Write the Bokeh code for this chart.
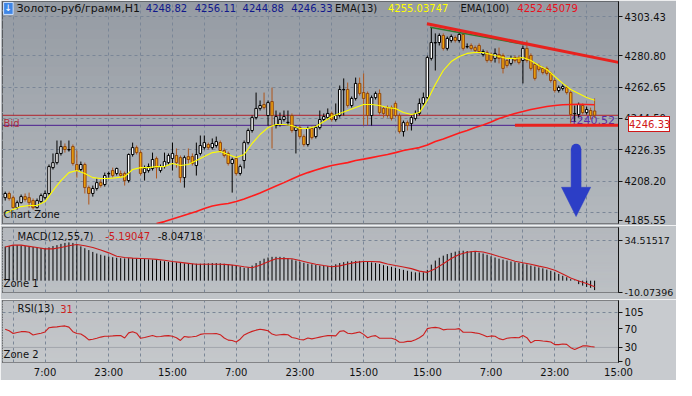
from bokeh.plotting import figure
from bokeh.layouts import column
from bokeh.models import Range1d, FixedTicker, Label, Span, ColumnDataSource, PrintfTickFormatter, Div
from bokeh.embed import file_html
from bokeh.resources import INLINE
from bokeh.core.properties import value

# ---------------- data ----------------
bars = list(range(-10, 139))          # hourly bar index (H1)
tick_pos = [0, 16, 32, 48, 64, 80, 96, 112, 128, 144]
tick_labels = ["7:00", "23:00", "15:00", "7:00", "23:00", "15:00", "15:00", "7:00", "23:00", "15:00"]

opens = [4198.6, 4201.0, 4198.6, 4192.8, 4195.7, 4199.2, 4198.6, 4196.9, 4192.8, 4196.3,
         4198.6, 4201.0, 4216.0, 4218.9, 4224.2, 4228.2, 4226.3, 4228.2, 4217.8, 4214.9,
         4217.8, 4204.4, 4201.0, 4203.9, 4207.3, 4206.2, 4212.4, 4214.3, 4212.6, 4212.6,
         4212.6, 4208.5, 4223.6, 4227.6, 4224.7, 4213.1, 4214.3, 4215.5, 4221.3, 4214.3,
         4216.6, 4218.9, 4221.3, 4223.0, 4221.8, 4210.2, 4222.4, 4222.4, 4217.2, 4224.2,
         4227.6, 4229.4, 4227.6, 4228.8, 4230.5, 4225.9, 4224.2, 4218.4, 4221.3, 4212.6,
         4220.1, 4230.5, 4237.5, 4245.0, 4250.3, 4252.6, 4246.2, 4254.3, 4240.4, 4241.0,
         4243.9, 4242.1, 4246.2, 4237.5, 4239.2, 4234.0, 4229.4, 4238.7, 4234.0, 4239.2,
         4243.9, 4245.0, 4247.4, 4243.9, 4246.2, 4261.1, 4261.3, 4252.0, 4256.1, 4264.8,
         4259.5, 4259.0, 4246.2, 4256.6, 4259.0, 4250.3, 4250.8, 4250.8, 4253.2, 4246.2,
         4236.9, 4242.1, 4241.6, 4244.5, 4247.4, 4253.2, 4256.6, 4279.3, 4288.3, 4288.5,
         4292.6, 4285.1, 4289.7, 4291.4, 4289.7, 4293.2, 4286.0, 4286.8, 4285.6, 4286.8,
         4281.6, 4282.7, 4281.6, 4279.3, 4281.6, 4281.0, 4278.1, 4276.4, 4279.8, 4279.8,
         4278.1, 4285.1, 4281.0, 4275.8, 4275.2, 4273.5, 4273.5, 4270.6, 4266.5, 4260.7,
         4261.9, 4262.4, 4259.5, 4247.2, 4246.8, 4252.0, 4247.9, 4249.1, 4248.82]
highs = [4202.1, 4202.1, 4199.8, 4196.9, 4200.4, 4201.0, 4201.5, 4198.1, 4198.1, 4201.0,
         4202.7, 4217.8, 4224.2, 4231.7, 4231.7, 4230.0, 4231.7, 4229.4, 4225.9, 4219.5,
         4218.9, 4205.6, 4205.6, 4209.7, 4209.1, 4213.1, 4213.7, 4216.0, 4216.0, 4214.3,
         4213.7, 4224.2, 4230.5, 4228.8, 4225.9, 4217.2, 4218.4, 4224.7, 4222.4, 4217.8,
         4224.7, 4224.2, 4230.5, 4227.1, 4223.0, 4223.0, 4227.1, 4224.2, 4230.5, 4234.6,
         4234.6, 4230.5, 4232.9, 4234.0, 4231.7, 4227.1, 4225.3, 4221.8, 4222.4, 4217.8,
         4231.7, 4238.7, 4246.2, 4259.5, 4254.9, 4259.5, 4254.9, 4262.4, 4249.1, 4247.9,
         4249.1, 4249.1, 4247.4, 4240.4, 4240.4, 4235.2, 4239.8, 4239.8, 4240.4, 4249.1,
         4247.4, 4250.3, 4248.5, 4253.2, 4263.6, 4267.7, 4265.3, 4257.2, 4268.2, 4268.2,
         4270.6, 4260.1, 4257.8, 4260.1, 4261.3, 4251.4, 4252.0, 4252.0, 4254.3, 4247.4,
         4243.3, 4243.3, 4246.2, 4249.1, 4256.1, 4259.5, 4281.0, 4297.2, 4293.8, 4293.8,
         4293.8, 4292.0, 4293.2, 4292.6, 4294.3, 4294.3, 4288.0, 4288.0, 4286.8, 4288.0,
         4284.5, 4283.9, 4282.7, 4285.1, 4285.6, 4282.2, 4279.3, 4281.0, 4281.0, 4281.0,
         4286.8, 4289.7, 4282.2, 4276.9, 4276.4, 4274.6, 4274.6, 4271.7, 4267.7, 4263.6,
         4264.2, 4263.6, 4260.7, 4252.0, 4253.7, 4253.2, 4251.4, 4250.8, 4256.11]
lows = [4196.9, 4196.9, 4192.3, 4191.7, 4195.2, 4196.3, 4192.8, 4191.7, 4192.3, 4195.2,
        4197.5, 4199.8, 4214.9, 4217.8, 4223.0, 4224.7, 4225.3, 4217.2, 4210.2, 4213.7,
        4201.0, 4194.6, 4199.2, 4202.7, 4204.4, 4205.0, 4210.2, 4210.2, 4211.4, 4210.2,
        4205.6, 4207.3, 4222.4, 4223.6, 4211.4, 4208.5, 4213.1, 4214.3, 4209.7, 4213.1,
        4215.5, 4217.8, 4214.3, 4216.0, 4207.3, 4204.4, 4218.4, 4217.2, 4211.4, 4223.0,
        4226.5, 4226.5, 4226.5, 4227.6, 4224.7, 4221.8, 4217.2, 4201.5, 4211.4, 4211.4,
        4215.5, 4229.4, 4236.3, 4243.9, 4249.1, 4249.7, 4240.4, 4227.1, 4238.7, 4239.8,
        4242.7, 4240.4, 4236.3, 4224.2, 4232.9, 4228.2, 4228.2, 4232.3, 4232.9, 4238.1,
        4242.7, 4243.9, 4242.7, 4242.7, 4245.0, 4246.2, 4250.8, 4250.8, 4254.9, 4257.8,
        4240.4, 4240.4, 4240.4, 4255.5, 4246.8, 4245.0, 4245.0, 4243.3, 4245.0, 4235.8,
        4234.0, 4237.5, 4237.5, 4243.3, 4246.2, 4252.0, 4255.5, 4278.1, 4272.3, 4286.8,
        4283.9, 4283.9, 4288.5, 4288.5, 4288.5, 4283.9, 4285.1, 4283.9, 4282.7, 4282.2,
        4280.4, 4276.9, 4276.9, 4276.9, 4276.4, 4270.6, 4274.0, 4275.2, 4276.9, 4275.8,
        4264.8, 4276.9, 4272.3, 4266.5, 4271.7, 4270.0, 4269.4, 4265.3, 4259.5, 4259.5,
        4260.7, 4258.4, 4241.6, 4242.7, 4245.0, 4246.8, 4246.8, 4243.9, 4244.88]
closes = [4201.0, 4198.1, 4192.8, 4195.7, 4199.2, 4197.5, 4195.7, 4192.8, 4196.9, 4199.8,
          4201.0, 4216.6, 4218.9, 4224.2, 4228.2, 4226.5, 4226.5, 4218.4, 4214.3, 4217.8,
          4204.4, 4201.0, 4203.9, 4207.3, 4205.6, 4211.4, 4212.6, 4211.4, 4215.5, 4211.4,
          4208.5, 4223.6, 4227.6, 4224.7, 4212.6, 4215.5, 4216.6, 4220.7, 4216.0, 4216.6,
          4219.5, 4223.0, 4224.2, 4218.9, 4210.2, 4221.8, 4220.7, 4218.4, 4223.6, 4228.8,
          4230.5, 4227.6, 4230.0, 4231.1, 4225.9, 4223.0, 4218.4, 4220.7, 4212.6, 4216.6,
          4230.5, 4237.5, 4245.0, 4250.3, 4252.0, 4250.8, 4253.7, 4246.2, 4245.6, 4243.9,
          4245.6, 4242.3, 4237.5, 4239.2, 4234.0, 4229.4, 4238.7, 4233.4, 4239.2, 4243.9,
          4245.6, 4247.4, 4243.9, 4246.2, 4261.3, 4261.3, 4252.0, 4256.1, 4264.8, 4259.0,
          4256.1, 4246.2, 4256.6, 4259.0, 4247.9, 4247.4, 4246.2, 4244.5, 4246.2, 4236.9,
          4242.1, 4240.4, 4245.0, 4247.4, 4253.2, 4256.6, 4279.8, 4288.5, 4288.5, 4292.6,
          4285.1, 4290.9, 4292.0, 4289.7, 4293.2, 4285.1, 4286.2, 4285.1, 4283.9, 4283.3,
          4283.3, 4278.1, 4278.1, 4282.2, 4279.3, 4273.5, 4275.2, 4279.3, 4278.1, 4276.9,
          4285.1, 4278.1, 4273.5, 4267.7, 4272.9, 4271.1, 4270.6, 4266.5, 4260.7, 4262.4,
          4263.0, 4259.5, 4246.8, 4247.4, 4252.6, 4247.9, 4249.7, 4246.2, 4246.33]

ema13_last = 4255.03747
ema100_last = 4252.45079
ema13_x = list(range(-10, 139, 2))
ema13 = [4189.4, 4191.7, 4193.4, 4194.0, 4194.0, 4196.3, 4202.7, 4208.5, 4213.1, 4214.3,
         4212.6, 4210.2, 4209.7, 4209.7, 4210.2, 4210.8, 4214.9, 4216.0, 4216.0, 4216.6,
         4216.6, 4218.4, 4217.2, 4217.8, 4220.1, 4222.4, 4224.7, 4225.3, 4223.6, 4221.8,
         4223.6, 4230.0, 4235.2, 4239.2, 4241.0, 4241.0, 4240.4, 4238.7, 4238.7, 4239.8,
         4242.7, 4245.6, 4247.4, 4249.1, 4250.8, 4252.6, 4252.6, 4252.0, 4250.8, 4250.3,
         4247.9, 4246.8, 4247.9, 4254.9, 4264.2, 4272.3, 4277.5, 4280.4, 4282.2, 4282.7,
         4282.7, 4281.6, 4280.4, 4279.3, 4279.3, 4279.8, 4278.1, 4275.2, 4272.9, 4268.8,
         4264.8, 4261.3, 4259.0, 4256.6, ema13_last]
ema100_x = list(range(28, 139, 2))
ema100 = [4183.6, 4184.7, 4186.2, 4187.6, 4189.1, 4190.5, 4192.3, 4193.7, 4194.6, 4195.2,
          4196.3, 4197.8, 4199.5, 4201.3, 4203.3, 4205.3, 4207.3, 4209.4, 4211.4, 4213.1,
          4214.6, 4216.0, 4217.2, 4218.1, 4218.9, 4220.1, 4220.9, 4221.8, 4222.7, 4223.6,
          4224.7, 4225.9, 4226.8, 4227.6, 4229.1, 4231.1, 4232.6, 4234.3, 4236.0, 4237.5,
          4239.2, 4240.7, 4242.4, 4244.5, 4245.9, 4247.4, 4248.5, 4249.7, 4250.6, 4251.4,
          4252.0, 4252.4, 4252.6, 4252.7, 4252.6, ema100_last]

macd_last = -8.04718
signal_last = -5.19047
macd_hist = [28.96, 29.43, 30.22, 30.22, 29.98, 29.43, 29.19, 28.64, 28.40, 27.85,
             27.61, 28.40, 29.43, 30.22, 31.33, 32.12, 32.59, 32.12, 30.77, 29.19,
             27.61, 26.03, 24.45, 23.11, 22.08, 21.29, 20.50, 19.95, 19.48, 19.16,
             18.92, 19.16, 19.16, 18.92, 18.69, 18.37, 18.13, 17.90, 17.58, 17.11,
             16.55, 16.00, 15.76, 15.53, 14.97, 14.74, 14.42, 14.42, 14.42, 14.42,
             14.74, 14.74, 14.97, 14.97, 14.74, 14.42, 13.95, 13.39, 12.84, 11.81,
             11.02, 11.26, 12.84, 14.97, 16.79, 18.69, 19.71, 20.27, 20.27, 20.27,
             19.95, 19.16, 18.13, 17.11, 16.00, 15.21, 14.42, 13.95, 13.39, 12.84,
             12.60, 12.37, 12.84, 13.95, 14.97, 15.76, 16.32, 16.55, 16.79, 16.79,
             16.32, 16.00, 15.53, 14.97, 14.18, 13.16, 12.37, 11.81, 10.78, 9.99,
             9.20, 8.41, 7.62, 7.07, 7.07, 7.07, 9.20, 13.63, 17.11, 19.48,
             21.29, 22.64, 23.66, 24.69, 25.48, 25.48, 25.24, 25.01, 24.45, 23.90,
             23.11, 22.08, 20.74, 19.71, 18.69, 17.90, 17.11, 16.32, 15.76, 15.21,
             14.74, 13.95, 12.84, 12.05, 11.26, 10.47, 9.44, 8.41, 7.07, 5.73,
             4.15, 2.88, 1.30, -0.30, -2.96, -4.23, -5.33, -6.12, macd_last]
signal_x = list(range(-10, 139, 2))
macd_signal = [28.64, 30.22, 30.22, 29.19, 28.17, 27.06, 27.06, 28.17, 29.75, 30.77,
               29.75, 28.17, 26.03, 23.66, 20.74, 19.71, 19.16, 18.92, 18.69, 18.13,
               17.34, 16.32, 15.53, 14.74, 13.95, 13.95, 13.95, 13.95, 13.63, 12.84,
               11.81, 11.02, 13.16, 16.00, 18.69, 18.92, 18.69, 17.11, 15.53, 13.95,
               12.84, 11.81, 12.60, 14.18, 15.53, 16.32, 16.32, 16.00, 14.18, 12.84,
               11.57, 10.23, 8.10, 7.07, 10.23, 14.42, 18.92, 22.32, 24.22, 25.01,
               24.45, 22.64, 20.50, 18.69, 16.55, 15.21, 13.95, 12.37, 11.02, 8.89,
               5.73, 2.33, -0.28, -2.41, signal_last]

rsi_last = 31
rsi = [68.5, 65.3, 59.6, 61.5, 63.4, 63.4, 62.1, 56.4, 58.3, 60.2,
       62.8, 71.7, 73.0, 73.6, 74.9, 75.6, 73.0, 63.4, 59.6, 58.3,
       53.2, 46.1, 47.4, 49.3, 51.9, 53.8, 53.8, 54.4, 55.1, 55.1,
       50.0, 60.8, 63.4, 60.2, 49.3, 51.2, 53.2, 55.1, 52.5, 53.2,
       54.4, 55.1, 53.8, 50.6, 44.8, 53.2, 51.9, 52.5, 53.8, 57.6,
       58.9, 58.9, 58.9, 59.6, 57.0, 50.0, 45.5, 44.8, 41.6, 47.4,
       56.4, 60.8, 64.0, 66.6, 68.5, 67.2, 65.3, 58.3, 55.7, 57.0,
       57.6, 57.0, 51.2, 49.3, 46.8, 46.1, 50.0, 48.1, 50.0, 51.9,
       53.8, 55.1, 55.1, 54.4, 64.0, 65.3, 60.2, 58.9, 60.8, 62.8,
       57.6, 50.6, 53.8, 55.1, 49.3, 49.3, 49.3, 49.3, 46.8, 41.0,
       41.0, 42.9, 42.9, 46.1, 50.6, 56.4, 69.8, 71.7, 72.4, 71.1,
       67.2, 68.5, 68.5, 68.5, 69.8, 62.1, 62.1, 62.1, 60.8, 59.6,
       56.4, 52.5, 54.4, 53.8, 48.7, 46.1, 49.3, 50.6, 51.2, 50.6,
       55.1, 50.6, 39.7, 44.8, 44.8, 43.6, 42.9, 41.6, 35.9, 35.9,
       37.2, 36.5, 29.5, 25.7, 29.5, 33.3, 33.3, 32.1, rsi_last]

price_ticks = [4185.55, 4208.20, 4226.35, 4244.50, 4262.65, 4280.80, 4303.43]
price_grid = [4190.05, 4208.20, 4226.35, 4244.50, 4262.65, 4280.80, 4303.43]
macd_ticks = [-10.07396, 34.51517]
rsi_ticks = [0, 30, 70, 105]
level_price = 4240.52

# drawn objects (trend lines)
resist_x, resist_y = [95.9, 144.0], [4299.4, 4277.0]
green_x, green_y = [96.7, 120.9], [4297.4, 4287.2]
support_x, support_y = [118.0, 144.0], [level_price, level_price]

# ---------------- styling helpers ----------------
FONT = "DejaVu Sans"
W = 676
FRAME_L = 2
FRAME_W = 618
X0, X1 = -10.675, 144.0
xr = Range1d(X0, X1)
grid_x = list(range(-8, 144, 8))
MAIN_Y0, MAIN_Y1, MAIN_FH = 4183.6, 4312.3, 222
H1, H2, H3 = 225, 74, 81


def rgb(h):
    return tuple(int(h[k:k + 2], 16) for k in (1, 3, 5))


def blend(a, b, t):
    ra, rb = rgb(a), rgb(b)
    return "#%02x%02x%02x" % tuple(round(x + (y - x) * t) for x, y in zip(ra, rb))


def panel(height, y0, y1, btop, bbot, c_top, c_bot, border, yticks, fmt, ygrid,
          xaxis=False, label_size="10px"):
    p = figure(width=W, height=height, x_range=xr, y_range=Range1d(y0, y1),
               output_backend="svg", toolbar_location=None,
               y_axis_location="right", x_axis_location=("below" if xaxis else None),
               min_border_left=FRAME_L, min_border_right=W - FRAME_W - FRAME_L,
               min_border_top=btop, min_border_bottom=bbot)
    p.border_fill_color = border
    p.background_fill_color = c_bot
    p.outline_line_color = "#141414"
    n = 24
    edges = [y0 + (y1 - y0) * k / n for k in range(n + 1)]
    cols = [blend(c_bot, c_top, (k + 0.5) / n) for k in range(n)]
    p.quad(left=X0 - 2, right=X1 + 2, bottom=edges[:-1], top=edges[1:],
           fill_color=cols, line_color=cols, level="image")
    p.xgrid.ticker = FixedTicker(ticks=grid_x)
    p.ygrid.ticker = FixedTicker(ticks=ygrid)
    p.grid.grid_line_color = "#7a8697"
    p.grid.grid_line_dash = "3 3"
    p.grid.grid_line_width = 1
    ax = p.yaxis[0]
    ax.ticker = FixedTicker(ticks=yticks)
    ax.formatter = PrintfTickFormatter(format=fmt)
    ax.major_tick_in = 0
    ax.major_tick_out = 4
    ax.minor_tick_line_color = None
    ax.axis_line_color = "#141414"
    ax.major_tick_line_color = "#141414"
    ax.major_label_text_font = FONT
    ax.major_label_text_font_size = label_size
    ax.major_label_text_color = "#111111"
    ax.major_label_standoff = 2
    return p


def lab(p, x, y, text, color="#111111", size="10px", align="left", **kw):
    p.add_layout(Label(x=x, y=y, text=text, text_color=color, text_font=FONT,
                       text_font_size=size, text_align=align, text_baseline="middle", **kw))


# ---------------- main price panel ----------------
p1 = panel(H1, MAIN_Y0, MAIN_Y1, 1, 2, "#959ba3", "#b4b9be", "#b6babf",
           price_ticks, "%.2f", price_grid)

p1.add_layout(Span(location=closes[-1], dimension="width", line_color="#b0202c", line_width=1, level="underlay"))
p1.add_layout(Span(location=level_price, dimension="width", line_color="#4a1d8f", line_width=1, level="underlay"))

p1.text(x=[143.1], y=[level_price + 0.6], text=["%.2f" % level_price], text_align="right",
        text_baseline="bottom", text_font=value(FONT), text_font_size="11px", text_color="#5a2ca8")

bull = [c >= o for o, c in zip(opens, closes)]
src = ColumnDataSource(dict(
    x=bars, h=highs, l=lows,
    top=[max(o, c) for o, c in zip(opens, closes)],
    bot=[min(o, c) for o, c in zip(opens, closes)],
    fill=["#ffffff" if b else "#f2a60c" for b in bull],
    edge=["#000000" if b else "#8e4612" for b in bull],
    wick=["#000000" if b else "#b0561a" for b in bull]))
p1.segment(x0="x", y0="h", x1="x", y1="l", line_color="wick", line_width=1, source=src)
p1.vbar(x="x", width=0.62, top="top", bottom="bot", fill_color="fill", line_color="edge",
        line_width=1, source=src)

p1.line(ema100_x, ema100, line_color="#ff1c1c", line_width=1.6)
p1.line(ema13_x, ema13, line_color="#ffff00", line_width=1.1)

p1.line(green_x, green_y, line_color="#2f7a2f", line_width=1.5)
p1.line(resist_x, resist_y, line_color="#e8221e", line_width=3)
p1.line(support_x, support_y, line_color="#e8221e", line_width=3)

# blue arrow
ax_c, sh_w, hd_w = 133.35, 1.25, 3.67
sh_top, hd_base, tip = 4226.9, 4204.6, 4187.6
p1.patch([ax_c - sh_w, ax_c + sh_w, ax_c + sh_w, ax_c + hd_w, ax_c, ax_c - hd_w, ax_c - sh_w],
         [sh_top, sh_top, hd_base, hd_base, tip, hd_base, hd_base],
         fill_color="#2c3ec6", line_color="#2c3ec6", line_width=0.5)
p1.ellipse(x=[ax_c], y=[sh_top], width=2 * sh_w, height=5.8, fill_color="#2c3ec6", line_color=None)

# header texts
hy = 4308.3
p1.add_layout(Label(x=-9.2, y=hy, text="↓", text_color="white", text_font=FONT, text_font_size="9px",
                    text_align="center", text_baseline="middle", background_fill_color="#3f86e6",
                    border_line_color="#cfe3ff", padding=1))
lab(p1, -7.18, hy, "Золото-руб/грамм,H1", size="11px")
lab(p1, 25.3, hy, "%.2f" % opens[-1], color="#10188c")
lab(p1, 37.6, hy, "%.2f" % highs[-1], color="#10188c")
lab(p1, 49.6, hy, "%.2f" % lows[-1], color="#10188c")
lab(p1, 61.8, hy, "%.2f" % closes[-1], color="#10188c")
lab(p1, 72.8, hy, "EMA(13)")
lab(p1, 86.1, hy, "%.5f" % ema13_last, color="#ffff00")
lab(p1, 104.3, hy, "EMA(100)")
lab(p1, 118.6, hy, "%.5f" % ema100_last, color="#e8101c")
lab(p1, -10.4, 4241.6, "Bid", color="#b02c3c")
lab(p1, -10.4, 4189.1, "Chart Zone")

# ---------------- MACD panel ----------------
p2 = panel(H2, -10.075, 45.24, 2, 7, "#b4b8bd", "#bcc0c4", "#c0c4c8",
           macd_ticks, "%.5f", [34.51517], label_size="9.5px")
p2.segment(x0=bars, y0=[0] * len(bars), x1=bars, y1=macd_hist, line_color="#000000", line_width=1)
p2.line(signal_x, macd_signal, line_color="#cc1a1a", line_width=1.1)
lab(p2, -6.9, 38.0, "MACD(12,55,7)")
lab(p2, 15.1, 38.0, "%.5f" % signal_last, color="#cc1a1a")
lab(p2, 28.3, 38.0, "%.5f" % macd_last)
lab(p2, -10.4, -2.8, "Zone 1")

# ---------------- RSI panel ----------------
p3 = panel(H3, -1.9, 129.4, 1, 18, "#bdc0c4", "#c5c8cb", "#c8cbcf",
           rsi_ticks, "%d", [105], xaxis=True)
p3.add_layout(Span(location=30, dimension="width", line_color="#a1a6ac", line_width=1, level="underlay"))
p3.line(bars, rsi, line_color="#cc1f1f", line_width=1.1)
lab(p3, -6.9, 112.0, "RSI(13)")
lab(p3, 3.8, 112.0, "%d" % rsi_last, color="#cc1f1f")
lab(p3, -10.4, 15.5, "Zone 2")

xa = p3.xaxis[0]
xa.ticker = FixedTicker(ticks=tick_pos)
xa.major_label_overrides = {t: s for t, s in zip(tick_pos, tick_labels)}
xa.axis_line_color = None
xa.major_tick_line_color = None
xa.minor_tick_line_color = None
xa.major_tick_out = 0
xa.major_tick_in = 0
xa.major_label_standoff = 4
xa.major_label_text_font = FONT
xa.major_label_text_font_size = "10px"
xa.major_label_text_color = "#111111"

# current-price marker on the price axis (overlaid box, zero layout height)
box_top = 1 + (MAIN_Y1 - closes[-1]) / (MAIN_Y1 - MAIN_Y0) * MAIN_FH - 4
box_left = FRAME_L + FRAME_W + 3
total_h = H1 + H2 + H3
box_html = ('<div style="position:relative;left:%dpx;top:%.1fpx;width:42px;height:16px;'
            'border:1px solid #d01818;background:#ffffff;color:#d01818;'
            'font-family:\'DejaVu Sans\';font-size:10px;line-height:16px;text-align:center;'
            'white-space:nowrap;z-index:20;">%.2f</div>') % (box_left, box_top - total_h, closes[-1])
box = Div(text=box_html, width=60, height=0, styles={"overflow": "visible", "z-index": "20"})

layout = column(p1, p2, p3, box, spacing=0)
open("out.html", "w").write(file_html(layout, INLINE))
